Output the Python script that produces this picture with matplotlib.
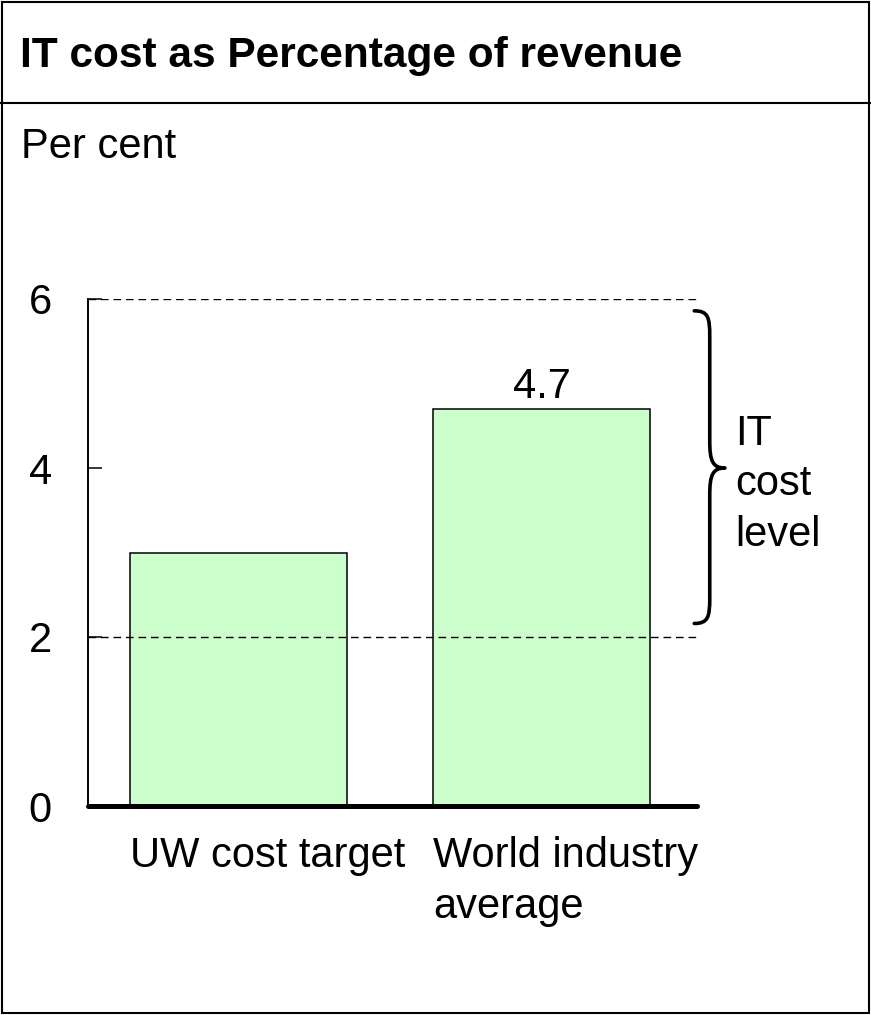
import matplotlib
matplotlib.use("Agg")
import matplotlib.pyplot as plt
from matplotlib.patches import Rectangle, PathPatch
from matplotlib.path import Path
from matplotlib.lines import Line2D

plt.rcParams['font.family'] = ['Liberation Sans', 'DejaVu Sans']

# data
categories = ["UW cost target", "World industry\naverage"]
values = [3.0, 4.7]
labelled = [False, True]
band = [2, 6]          # IT cost level range
yticks = [0, 2, 4, 6]
title = "IT cost as Percentage of revenue"
unit = "Per cent"
band_label = "IT\ncost\nlevel"

W, H = 871, 1015
fig = plt.figure(figsize=(W / 100, H / 100), dpi=100)

# frame around the whole chart, plus the title divider
fig.add_artist(Rectangle((2 / W, 2 / H), 1 - 4 / W, 1 - 4 / H, transform=fig.transFigure,
                         fill=False, lw=1.5, ec="black"))
fig.add_artist(Line2D([0, 1], [1 - 103 / H] * 2, transform=fig.transFigure, lw=1.5, color="black"))

fig.text(20 / W, 1 - 67 / H, title, fontsize=30.5, fontweight="bold", va="baseline")
fig.text(21 / W, 1 - 158 / H, unit, fontsize=30, va="baseline")

ax = fig.add_axes([88 / W, 1 - 806 / H, (697 - 88) / W, (806 - 299) / H])
x = list(range(len(values)))
bw = 0.715
bars = ax.bar(x, values, width=bw, color="#ccffcc", edgecolor="black", lw=1.1, zorder=2)
ax.bar_label(bars, labels=[f"{v:.1f}" if s else "" for v, s in zip(values, labelled)],
             padding=1, fontsize=30)

ax.set_xlim(-0.496, 1.511)
ax.set_ylim(0, 6)
ax.set_yticks(yticks)
ax.set_xticks([])
ax.tick_params(axis="y", direction="in", length=10, width=1.1, pad=26, labelsize=30)

for s in ["top", "right", "bottom"]:
    ax.spines[s].set_visible(False)
ax.spines["left"].set_linewidth(1.4)

# dashed band limits
for yb in band:
    ax.axhline(yb, color="black", lw=1, ls=(0, (5.5, 3.5)), zorder=3)

# heavy baseline
ax.axhline(0, color="black", lw=3.6, solid_capstyle="round", clip_on=False, zorder=4)

# category labels, left-aligned with each bar
for xi, name in zip(x, categories):
    ax.text(xi - bw / 2, -0.35, name, fontsize=30, ha="left", va="top", linespacing=1.36)

# curly brace marking the band
mid = (band[0] + band[1]) / 2
top, bot = band[1] - 0.14, band[0] + 0.16
x0, x1, x2 = 1.502, 1.553, 1.603
r = 0.3
t = 0.32
verts = [
    (x0, top), (x1 - 0.005, top), (x1, top - 0.08), (x1, top - r),
    (x1, mid + t),
    (x1, mid + 0.08), (x1 + 0.01, mid), (x2, mid),
    (x1 + 0.01, mid), (x1, mid - 0.08), (x1, mid - t),
    (x1, bot + r),
    (x1, bot + 0.08), (x1 - 0.005, bot), (x0, bot),
]
codes = [Path.MOVETO, Path.CURVE4, Path.CURVE4, Path.CURVE4,
         Path.LINETO,
         Path.CURVE4, Path.CURVE4, Path.CURVE4,
         Path.CURVE4, Path.CURVE4, Path.CURVE4,
         Path.LINETO,
         Path.CURVE4, Path.CURVE4, Path.CURVE4]
ax.add_patch(PathPatch(Path(verts, codes), fill=False, lw=2.6, ec="black",
                       clip_on=False, capstyle="round", joinstyle="round"))
ax.text(1.637, mid - 0.19, band_label, fontsize=30, ha="left", va="center", linespacing=1.34)

fig.savefig("out.png", dpi=100)
